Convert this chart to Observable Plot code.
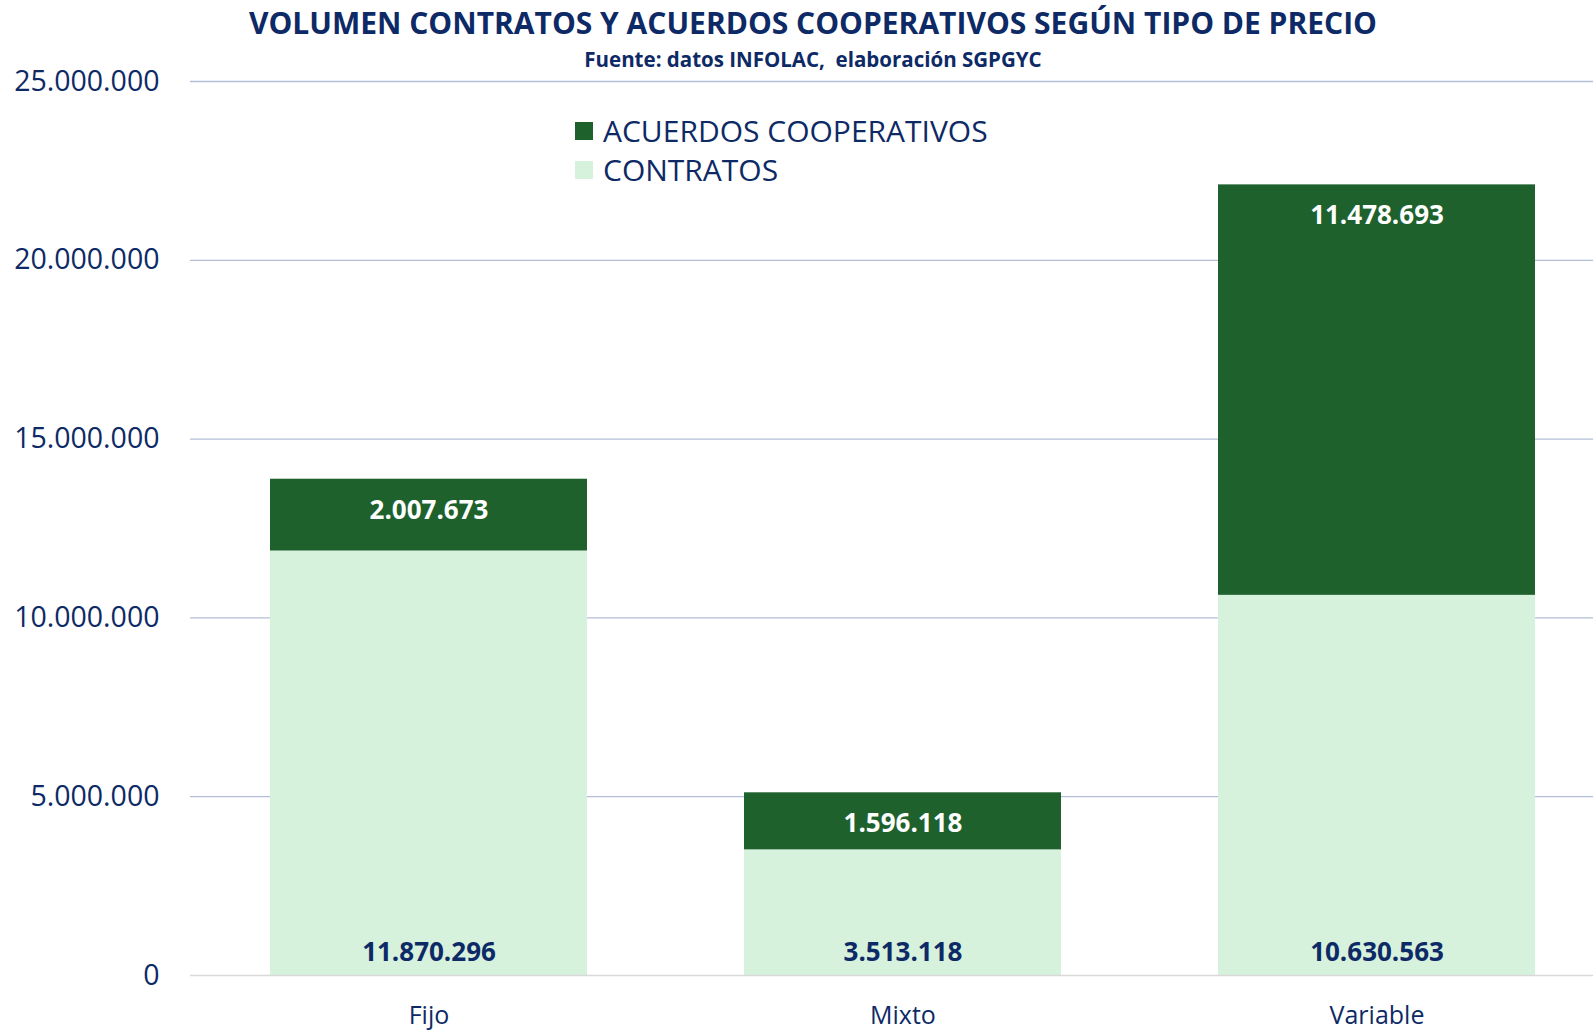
<!DOCTYPE html>
<html>
<head>
<meta charset="utf-8">
<script src="https://cdn.jsdelivr.net/npm/d3@7"></script>
<script src="https://cdn.jsdelivr.net/npm/@observablehq/plot@0.6"></script>
<style>
  html, body { margin: 0; padding: 0; background: #ffffff; }
  body { width: 1593px; height: 1031px; overflow: hidden; font-family: "Open Sans", "Noto Sans", sans-serif; color: #0d2a66; }
  #wrap { position: relative; width: 1593px; height: 1031px; }
  #header { position: relative; height: 68px; }
  #title { position: absolute; left: 0; width: 1626px; top: 3px; text-align: center; font-size: 30px; font-weight: 700; line-height: 40px; color: #0d2a66; white-space: pre; }
  #subtitle { position: absolute; left: 0; width: 1626px; top: 46px; text-align: center; font-size: 20.5px; font-weight: 700; line-height: 26px; color: #0d2a66; white-space: pre; }
  #legend { position: absolute; left: 575px; top: 111px; font-size: 30px; line-height: 39px; color: #0d2a66; }
  .lg-row { display: flex; align-items: center; height: 39px; }
  .lg-sw { width: 18px; height: 18px; margin-right: 10px; }
</style>
</head>
<body>
<div id="wrap">
  <div id="header">
    <div id="title"></div>
    <div id="subtitle"></div>
  </div>
  <div id="chart"></div>
  <div id="legend"></div>
</div>
<script>
const titleText = "VOLUMEN CONTRATOS Y ACUERDOS COOPERATIVOS SEGÚN TIPO DE PRECIO";
const subtitleText = "Fuente: datos INFOLAC,  elaboración SGPGYC";

const categories = ["Fijo", "Mixto", "Variable"];
const seriesNames = ["CONTRATOS", "ACUERDOS COOPERATIVOS"];
const contratos = [11870296, 3513118, 10630563];
const acuerdos = [2007673, 1596118, 11478693];
const seriesColors = ["#d6f1dc", "#1e612d"];
const yTicks = [0, 5000000, 10000000, 15000000, 20000000, 25000000];
const legendOrder = ["ACUERDOS COOPERATIVOS", "CONTRATOS"];

const navy = "#0d2a66";
const esLocale = d3.formatLocale({decimal: ",", thousands: ".", grouping: [3], currency: ["", " €"]});
const fmt = esLocale.format(",d");

document.getElementById("title").textContent = titleText;
document.getElementById("subtitle").textContent = subtitleText;

const rows = [];
categories.forEach((c, i) => {
  rows.push({tipo: c, serie: seriesNames[0], value: contratos[i]});
  rows.push({tipo: c, serie: seriesNames[1], value: acuerdos[i]});
});
const totals = categories.map((c, i) => ({tipo: c, total: contratos[i] + acuerdos[i], acuerdos: acuerdos[i]}));
const bottoms = categories.map((c, i) => ({tipo: c, contratos: contratos[i]}));

const chart = Plot.plot({
  width: 1593,
  height: 963,
  marginTop: 13,
  marginBottom: 56,
  marginLeft: 190,
  marginRight: 0,
  style: {fontFamily: '"Open Sans", "Noto Sans", sans-serif', color: navy, background: "white", overflow: "visible"},
  x: {domain: categories, range: [190, 1615], paddingInner: 0.331, paddingOuter: 0.168, label: null},
  y: {domain: [0, 25000000], label: null},
  color: {domain: seriesNames, range: seriesColors},
  marks: [
    Plot.gridY(yTicks.filter(d => d > 0), {stroke: "#b3bfd8", strokeOpacity: 1, strokeWidth: 1.3}),
    Plot.barY(rows, Plot.stackY({x: "tipo", y: "value", fill: "serie", order: seriesNames})),
    Plot.ruleY([0], {stroke: "#d9d9d9", strokeWidth: 1.5}),
    Plot.text(totals, {x: "tipo", y: "total", text: d => fmt(d.acuerdos), dy: 31, fill: "white", fontWeight: 700, fontSize: 26}),
    Plot.text(bottoms, {x: "tipo", y: 0, text: d => fmt(d.contratos), dy: -23, fill: navy, fontWeight: 700, fontSize: 26}),
    Plot.axisY({ticks: yTicks, tickSize: 0, tickPadding: 31, tickFormat: d => fmt(d), fontSize: 28.5, label: null}),
    Plot.axisX({tickSize: 0, tickPadding: 31, fontSize: 25, label: null})
  ]
});
document.getElementById("chart").appendChild(chart);

const legend = document.getElementById("legend");
legendOrder.forEach(name => {
  const row = document.createElement("div");
  row.className = "lg-row";
  const sw = document.createElement("div");
  sw.className = "lg-sw";
  sw.style.background = seriesColors[seriesNames.indexOf(name)];
  const label = document.createElement("span");
  label.textContent = name;
  row.appendChild(sw);
  row.appendChild(label);
  legend.appendChild(row);
});
</script>
</body>
</html>
